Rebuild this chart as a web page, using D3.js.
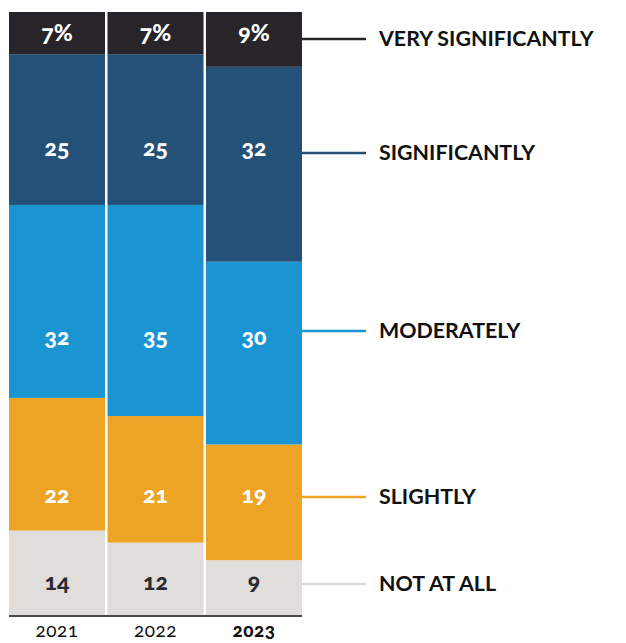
<!DOCTYPE html>
<html>
<head>
<meta charset="utf-8">
<script src="https://cdn.jsdelivr.net/npm/d3@7"></script>
<style>
  html, body { margin: 0; padding: 0; background: #fff; }
  svg { display: block; }
  text { font-family: Lato, "Open Sans", sans-serif; }
</style>
</head>
<body>
<svg id="chart" width="626" height="643"></svg>
<script>
// Survey shares by year, stacked from bottom ("Not at all") to top ("Very significantly")
const years = ["2021", "2022", "2023"];
const seriesKeys = ["notAtAll", "slightly", "moderately", "significantly", "verySignificantly"];
const seriesNames = ["NOT AT ALL", "SLIGHTLY", "MODERATELY", "SIGNIFICANTLY", "VERY SIGNIFICANTLY"];
const notAtAll = [14, 12, 9];
const slightly = [22, 21, 19];
const moderately = [32, 35, 30];
const significantly = [25, 25, 32];
const verySignificantly = [7, 7, 9];

const seriesColors = ["#e0dddb", "#eda324", "#1b94d2", "#245177", "#27252a"];
const labelColors = ["#2b2a30", "#ffffff", "#ffffff", "#ffffff", "#ffffff"];
const legendLineColors = ["#dedcdb", "#eda324", "#1b94d2", "#245177", "#27252a"];

const valuesByKey = { notAtAll, slightly, moderately, significantly, verySignificantly };
const rows = years.map((y, i) => {
  const r = { year: y };
  seriesKeys.forEach(k => { r[k] = valuesByKey[k][i]; });
  return r;
});

// Layout
const plot = { left: 9, right: 302, top: 12, bottom: 615 };
const valueRowY = { notAtAll: 582, slightly: 495, moderately: 337, significantly: 148, verySignificantly: 33 };
const legendRowY = { notAtAll: 584, slightly: 497, moderately: 331, significantly: 153, verySignificantly: 39 };
const legend = { lineX0: 302, lineX1: 366, textX: 379 };

const svg = d3.select("#chart");

const x = d3.scaleBand().domain(years).range([plot.left, plot.right]).paddingInner(0.025);
const y = d3.scaleLinear().domain([0, 1]).range([plot.bottom, plot.top]);

const stacked = d3.stack().keys(seriesKeys).offset(d3.stackOffsetExpand)(rows);

// Bars
const layers = svg.append("g").selectAll("g")
  .data(stacked)
  .join("g")
  .attr("fill", (d, i) => seriesColors[i]);

layers.selectAll("rect")
  .data(d => d)
  .join("rect")
  .attr("x", d => x(d.data.year))
  .attr("width", x.bandwidth())
  .attr("y", d => y(d[1]))
  .attr("height", d => y(d[0]) - y(d[1]));

// Value labels inside the bars
stacked.forEach((layer, si) => {
  const key = seriesKeys[si];
  svg.append("g").selectAll("text")
    .data(layer)
    .join("text")
    .attr("x", d => x(d.data.year) + x.bandwidth() / 2)
    .attr("y", valueRowY[key])
    .attr("dy", "0.35em")
    .attr("text-anchor", "middle")
    .attr("fill", labelColors[si])
    .attr("font-size", 23)
    .attr("font-weight", 900)
    .style("font-feature-settings", "'onum'")
    .text(d => key === "verySignificantly" ? d.data[key] + "%" : d.data[key]);
});

// Baseline axis with year labels
const xAxis = svg.append("g")
  .attr("transform", `translate(0,${plot.bottom + 1})`)
  .call(d3.axisBottom(x).tickSize(0).tickPadding(8));
xAxis.select(".domain")
  .attr("d", `M${plot.left},0H${plot.right}`)
  .attr("stroke", "#4a4a4a")
  .attr("stroke-width", 2);
xAxis.selectAll(".tick text")
  .attr("font-family", "Lato, 'Open Sans', sans-serif")
  .attr("font-size", 19)
  .attr("fill", "#111")
  .attr("font-weight", d => d === "2023" ? 900 : 400)
  .style("font-feature-settings", "'onum'")
  .style("letter-spacing", "0.5px");

// Legend: leader lines from the last bar to the category names
const lg = svg.append("g");
seriesKeys.forEach((key, i) => {
  const yy = legendRowY[key];
  lg.append("line")
    .attr("x1", legend.lineX0).attr("x2", legend.lineX1)
    .attr("y1", yy).attr("y2", yy)
    .attr("stroke", legendLineColors[i])
    .attr("stroke-width", 2.5);
  lg.append("text")
    .attr("x", legend.textX)
    .attr("y", yy)
    .attr("dy", "0.35em")
    .attr("font-size", 21.4)
    .attr("font-weight", 700)
    .attr("fill", "#111")
    .text(seriesNames[i]);
});
</script>
</body>
</html>
